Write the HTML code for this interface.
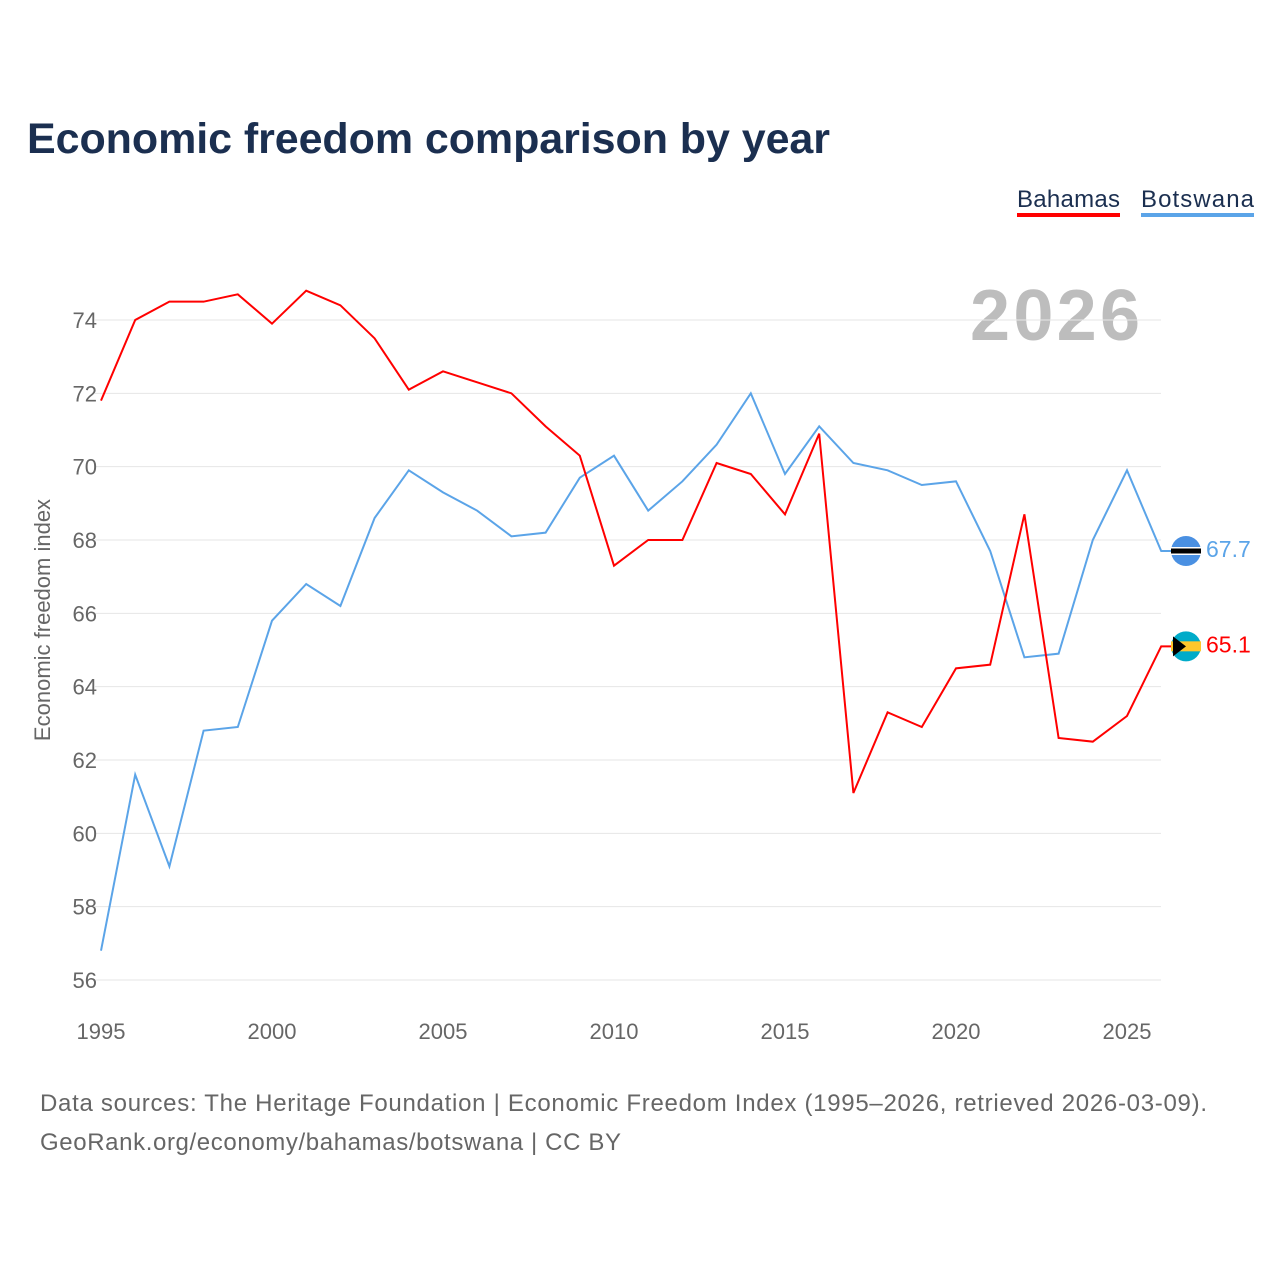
<!DOCTYPE html>
<html><head><meta charset="utf-8"><style>
body{margin:0;background:#fff;font-family:"Liberation Sans",sans-serif;}
#wrap{position:relative;width:1280px;height:1280px;overflow:hidden}
</style></head><body>
<div id="wrap">
<svg id="chart" width="1280" height="1280">
<text x="27" y="153" font-size="43" font-weight="bold" fill="#1b2f50" textLength="803">Economic freedom comparison by year</text>
<g><text x="1017" y="207" font-size="24" fill="#1b2f50" textLength="103">Bahamas</text><rect x="1017" y="213" width="103" height="4" fill="#ff0000"/></g>
<g><text x="1141" y="207" font-size="24" fill="#1b2f50" textLength="113">Botswana</text><rect x="1141" y="213" width="113" height="4" fill="#5ba4e8"/></g>
<text x="1140" y="340" font-size="72" font-weight="bold" fill="#bdbdbd" text-anchor="end" textLength="170">2026</text>
<text transform="translate(50,620) rotate(-90)" font-size="22" fill="#666" text-anchor="middle">Economic freedom index</text>
<g id="grid"></g><g id="xt"></g><g id="lines"></g>
<text x="40" y="1111" font-size="24" fill="#666" textLength="1167">Data sources: The Heritage Foundation | Economic Freedom Index (1995–2026, retrieved 2026-03-09).</text>
<text x="40" y="1150" font-size="24" fill="#666" textLength="581">GeoRank.org/economy/bahamas/botswana | CC BY</text>
</svg>
</div>
<script>
const years=[1995,1996,1997,1998,1999,2000,2001,2002,2003,2004,2005,2006,2007,2008,2009,2010,2011,2012,2013,2014,2015,2016,2017,2018,2019,2020,2021,2022,2023,2024,2025,2026];
const bahamas=[71.8,74.0,74.5,74.5,74.7,73.9,74.8,74.4,73.5,72.1,72.6,72.3,72.0,71.1,70.3,67.3,68.0,68.0,70.1,69.8,68.7,70.9,61.1,63.3,62.9,64.5,64.6,68.7,62.6,62.5,63.2,65.1];
const botswana=[56.8,61.6,59.1,62.8,62.9,65.8,66.8,66.2,68.6,69.9,69.3,68.8,68.1,68.2,69.7,70.3,68.8,69.6,70.6,72.0,69.8,71.1,70.1,69.9,69.5,69.6,67.7,64.8,64.9,68.0,69.9,67.7];
const yTicks=[56,58,60,62,64,66,68,70,72,74];
const xTicks=[1995,2000,2005,2010,2015,2020,2025];
const NS="http://www.w3.org/2000/svg";
const xS=y=>101+(y-1995)*(1127-101)/30;
const yS=v=>980-(v-56)*(980-320)/18;
function mk(t,a,p){const e=document.createElementNS(NS,t);for(const k in a)e.setAttribute(k,a[k]);p.appendChild(e);return e;}
const grid=document.getElementById('grid');
yTicks.forEach(v=>{
 const l=mk('line',{x1:95,x2:1161,y1:yS(v),y2:yS(v),stroke:'#e6e6e6','stroke-width':1},grid);
 
 
 const t=mk('text',{x:97,y:yS(v)+8,'font-size':22,fill:'#666','text-anchor':'end'},grid);t.textContent=v;
 
 
});
const xt=document.getElementById('xt');
xTicks.forEach(y=>{
 const t=mk('text',{x:xS(y),y:1039,'font-size':22,fill:'#666','text-anchor':'middle'},xt);t.textContent=y;
 
 
});
const lines=document.getElementById('lines');
function series(vals,col,name){
 const p=mk('polyline',{points:vals.map((v,i)=>xS(years[i])+','+yS(v)).join(' ')+' '+1171+','+yS(vals[vals.length-1]),fill:'none',stroke:col,'stroke-width':2},lines);
 
 
 const last=vals[vals.length-1],cy=yS(last);
 const c=mk('circle',{cx:1186,cy:cy,r:15,fill:col==='#ff0000'?'#00abc9':'#4a90e2'},lines);
 
 
 if(name==='botswana'){mk('rect',{x:1171,y:cy-4,width:30,height:8,fill:'#fff'},lines);mk('rect',{x:1171,y:cy-2.5,width:30,height:5,fill:'#000'},lines);}
 else{mk('rect',{x:1171,y:cy-5,width:30,height:10,fill:'#ffc72c'},lines);mk('path',{d:`M1173 ${cy-10} L1186 ${cy} L1173 ${cy+10} Z`,fill:'#000'},lines);}
 const t=mk('text',{x:1206,y:cy+6,'font-size':23,fill:col},lines);t.textContent=last.toFixed(1);
 
 
}
series(botswana,'#5ba4e8','botswana');
series(bahamas,'#ff0000','bahamas');
</script>
</body></html>
